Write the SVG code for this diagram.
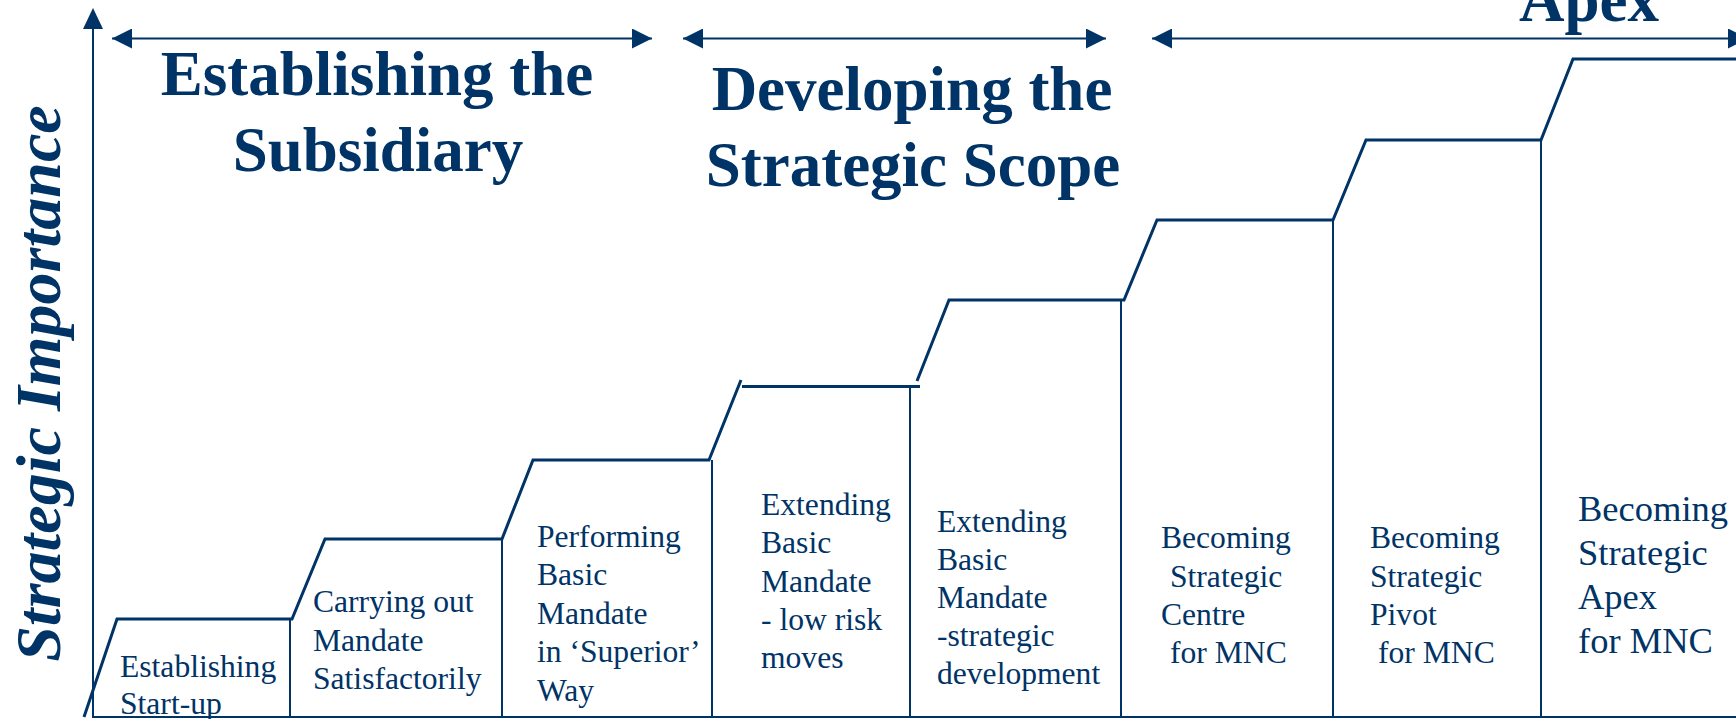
<svg xmlns="http://www.w3.org/2000/svg" width="1736" height="719" viewBox="0 0 1736 719">
<defs>
<style>
.ln{stroke:#003366;fill:none;stroke-linejoin:miter}
.thick{stroke-width:3}
.thin{stroke-width:2}
.title{font-family:"Liberation Serif","Times New Roman",serif;font-weight:bold;font-size:63px;fill:#003366;text-anchor:middle}
.ylab{font-family:"Liberation Serif","Times New Roman",serif;font-weight:bold;font-style:italic;font-size:64px;fill:#003366;text-anchor:middle}
.lbl{font-family:"Liberation Serif","Times New Roman",serif;font-size:31.6px;fill:#003366}
.lbl2{font-family:"Liberation Serif","Times New Roman",serif;font-size:36.5px;fill:#003366}
</style>
<marker id="ah" viewBox="0 0 10 10" refX="10" refY="5" markerUnits="userSpaceOnUse" markerWidth="21" markerHeight="20" orient="auto-start-reverse">
<path d="M0,0 L10,5 L0,10 z" fill="#003366"/>
</marker>
</defs>
<rect width="1736" height="719" fill="#ffffff"/>

<g id="axes">
<line class="ln thin" x1="93" y1="24" x2="93" y2="717"/>
<polygon points="93,8 83,29 103,29" fill="#003366"/>
<line class="ln thin" x1="92" y1="717" x2="1736" y2="717"/>
<text class="ylab" transform="translate(60,383.5) rotate(-90)">Strategic Importance</text>
</g>

<g id="connectors">
<line class="ln thin" x1="112" y1="38.5" x2="652" y2="38.5" marker-start="url(#ah)" marker-end="url(#ah)"/>
<line class="ln thin" x1="683" y1="38.5" x2="1106" y2="38.5" marker-start="url(#ah)" marker-end="url(#ah)"/>
<line class="ln thin" x1="1152" y1="38.5" x2="1748" y2="38.5" marker-start="url(#ah)" marker-end="url(#ah)"/>
</g>

<g id="staircase">
<polyline class="ln thick" points="84,717 117,619 292,619 325,539 502,539 533,460 709,460 741,380"/>
<line class="ln thick" x1="742" y1="386.5" x2="920" y2="386.5"/>
<polyline class="ln thick" points="917,381 949,300 1124,300 1157,220 1333,220 1366,140 1541,140 1573,59 1736,59"/>
<line class="ln thin" x1="290" y1="619" x2="290" y2="717"/>
<line class="ln thin" x1="502" y1="539" x2="502" y2="717"/>
<line class="ln thin" x1="712" y1="460" x2="712" y2="717"/>
<line class="ln thin" x1="910" y1="386" x2="910" y2="717"/>
<line class="ln thin" x1="1121" y1="300" x2="1121" y2="717"/>
<line class="ln thin" x1="1333" y1="220" x2="1333" y2="717"/>
<line class="ln thin" x1="1541" y1="140" x2="1541" y2="717"/>
</g>

<g id="phase-establishing">
<text class="title" x="377" y="95">Establishing the</text>
<text class="title" x="378" y="171">Subsidiary</text>
</g>
<g id="phase-developing">
<text class="title" x="912" y="110">Developing the</text>
<text class="title" x="913" y="186">Strategic Scope</text>
</g>
<g id="phase-apex">
<text class="title" x="1589" y="21">Apex</text>
</g>

<g id="step1">
<text class="lbl" x="120" y="677">Establishing</text>
<text class="lbl" x="120" y="714">Start-up</text>
</g>
<g id="step2">
<text class="lbl" x="313" y="612">Carrying out</text>
<text class="lbl" x="313" y="650.5">Mandate</text>
<text class="lbl" x="313" y="688.5">Satisfactorily</text>
</g>
<g id="step3">
<text class="lbl" x="537" y="547">Performing</text>
<text class="lbl" x="537" y="585.4">Basic</text>
<text class="lbl" x="537" y="623.8">Mandate</text>
<text class="lbl" x="537" y="662.2">in ‘Superior’</text>
<text class="lbl" x="537" y="700.6">Way</text>
</g>
<g id="step4">
<text class="lbl" x="761" y="515">Extending</text>
<text class="lbl" x="761" y="553">Basic</text>
<text class="lbl" x="761" y="591.5">Mandate</text>
<text class="lbl" x="761" y="630">- low risk</text>
<text class="lbl" x="761" y="668">moves</text>
</g>
<g id="step5">
<text class="lbl" x="937" y="531.5">Extending</text>
<text class="lbl" x="937" y="569.5">Basic</text>
<text class="lbl" x="937" y="607.5">Mandate</text>
<text class="lbl" x="937" y="645.5">-strategic</text>
<text class="lbl" x="937" y="683.5">development</text>
</g>
<g id="step6">
<text class="lbl" x="1161" y="548">Becoming</text>
<text class="lbl" x="1170" y="586.5">Strategic</text>
<text class="lbl" x="1161" y="625">Centre</text>
<text class="lbl" x="1170" y="663">for MNC</text>
</g>
<g id="step7">
<text class="lbl" x="1370" y="548">Becoming</text>
<text class="lbl" x="1370" y="586.5">Strategic</text>
<text class="lbl" x="1370" y="625">Pivot</text>
<text class="lbl" x="1378" y="663">for MNC</text>
</g>
<g id="step8">
<text class="lbl2" x="1578" y="521">Becoming</text>
<text class="lbl2" x="1578" y="565">Strategic</text>
<text class="lbl2" x="1578" y="609">Apex</text>
<text class="lbl2" x="1578" y="653">for MNC</text>
</g>
</svg>
